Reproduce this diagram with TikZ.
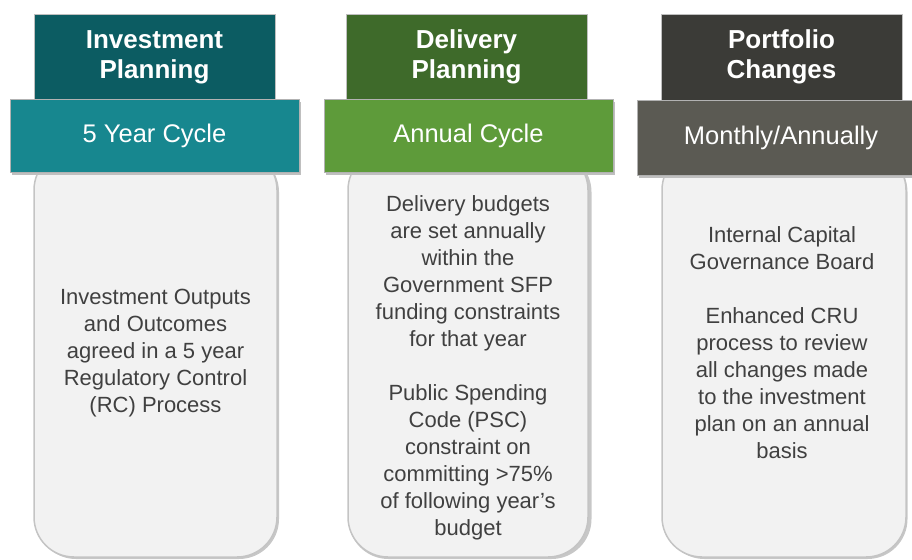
\documentclass[tikz,border=0pt]{standalone}
\usepackage{fontspec}
\setmainfont{Liberation Sans}
\definecolor{invhead}{HTML}{0C5C62}
\definecolor{invband}{HTML}{17878F}
\definecolor{delhead}{HTML}{3E6A2A}
\definecolor{delband}{HTML}{5E9B3A}
\definecolor{porhead}{HTML}{3B3B37}
\definecolor{porband}{HTML}{5B5A53}
\definecolor{bodyfill}{HTML}{F2F2F2}
\definecolor{bodyline}{HTML}{C4C4C4}
\definecolor{bodytext}{HTML}{404040}
\tikzset{
  headbox/.style={rectangle, minimum width=241pt, minimum height=86pt, inner sep=0pt,
    text=white, align=center, font=\fontsize{26}{30}\selectfont\bfseries,
    draw=black!25, line width=0.6pt},
  bandbox/.style={rectangle, minimum height=73pt, inner sep=0pt, text=white,
    font=\fontsize{25.5}{28}\selectfont, draw=black!30, line width=0.6pt},
  bodybox/.style={rectangle, rounded corners=40pt, minimum width=243pt, minimum height=407pt,
    fill=bodyfill, draw=bodyline, line width=1.5pt, inner sep=0pt},
  bodyshadow/.style={rectangle, rounded corners=40pt, minimum width=243pt, minimum height=407pt,
    fill=black!22, inner sep=0pt},
  bodylabel/.style={align=center, text=bodytext, font=\fontsize{22}{27}\selectfont}
}
\begin{document}
\begin{tikzpicture}[x=1pt,y=-1pt]
    \useasboundingbox (0,0) rectangle (912,559);
    % bodies
    \node[bodyshadow] at (157.5,355.5) {};
    \node[bodybox] (inv-body) at (155.5,353.5) {};
    \node[bodyshadow] at (470,355.5) {};
    \node[bodybox, minimum width=240pt] (del-body) at (468,353.5) {};
    \node[bodyshadow] at (786,355.5) {};
    \node[bodybox, minimum width=244pt] (por-body) at (784,353.5) {};
    % headers
    \node[headbox, fill=invhead] (inv-head) at (154.5,57) {Investment\\Planning};
    \node[headbox, fill=delhead] (del-head) at (466.5,57) {Delivery\\Planning};
    \node[headbox, fill=porhead] (por-head) at (781.5,57) {Portfolio\\Changes};
    % bands
    \fill[black!25] (12,102) rectangle (301,175);
    \node[bandbox, fill=invband, minimum width=289pt] (inv-band) at (154.5,135.5) {5 Year Cycle};
    \fill[black!25] (326,102) rectangle (615,175);
    \node[bandbox, fill=delband, minimum width=289pt] (del-band) at (468.5,136) {Annual Cycle};
    \fill[black!25] (639,103) rectangle (914,178);
    \node[bandbox, fill=porband, minimum width=288pt, minimum height=75pt] (por-band) at (781,137.5) {Monthly/Annually};
    % texts
    \node[bodylabel] (inv-text) at (155.5,353) {Investment Outputs\\and Outcomes\\agreed in a 5 year\\Regulatory Control\\(RC) Process};
    \node[bodylabel] (del-text) at (468,368) {Delivery budgets\\are set annually\\within the\\Government SFP\\funding constraints\\for that year\\[27pt]Public Spending\\Code (PSC)\\constraint on\\committing >75\%\\of following year’s\\budget};
    \node[bodylabel] (por-text) at (782,343) {Internal Capital\\Governance Board\\[27pt]Enhanced CRU\\process to review\\all changes made\\to the investment\\plan on an annual\\basis};
\end{tikzpicture}
\end{document}
